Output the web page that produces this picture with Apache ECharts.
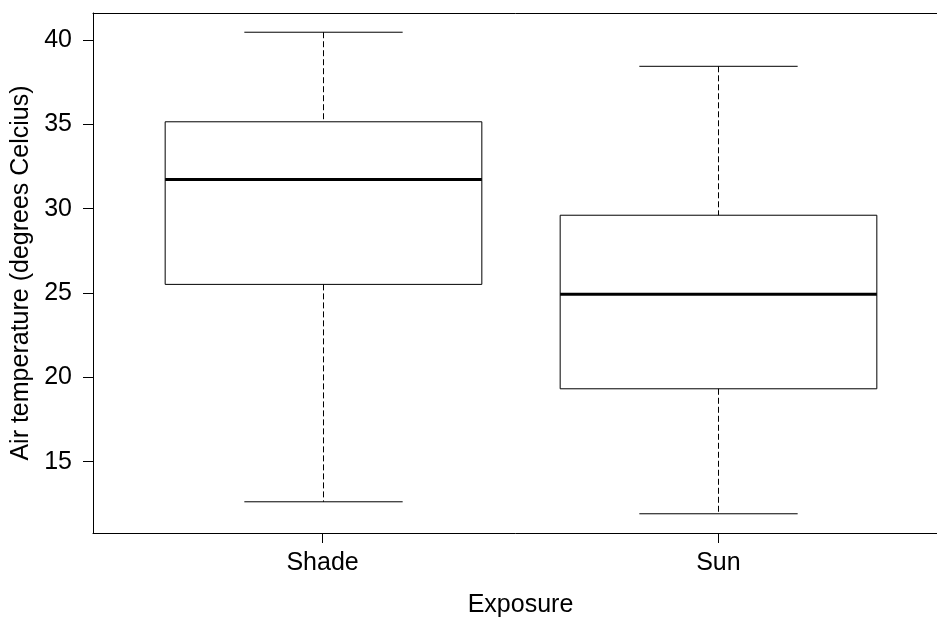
<!DOCTYPE html>
<html>
<head>
<meta charset="utf-8">
<script src="https://cdn.jsdelivr.net/npm/echarts@6/dist/echarts.min.js"></script>
<style>
html,body{margin:0;padding:0;background:#fff;}
#chart{width:937px;height:617px;}
</style>
</head>
<body>
<div id="chart"></div>
<script>
// Data
const categories = ['Shade', 'Sun'];
const whiskerLow  = [12.62, 11.91];
const q1Values    = [25.51, 19.32];
const medians     = [31.73, 24.92];
const q3Values    = [35.15, 29.61];
const whiskerHigh = [40.46, 38.44];
const yTickValues = [15, 20, 25, 30, 35, 40];
const xTickValues = [1, 2];

const FONT = '"Liberation Sans", Arial, sans-serif';

const data = categories.map((c, i) => [i + 1, whiskerLow[i], q1Values[i], medians[i], q3Values[i], whiskerHigh[i]]);

function renderItem(params, api) {
  const x = api.value(0);
  const pLo = api.coord([x, api.value(1)]);
  const pQ1 = api.coord([x, api.value(2)]);
  const pMed = api.coord([x, api.value(3)]);
  const pQ3 = api.coord([x, api.value(4)]);
  const pHi = api.coord([x, api.value(5)]);
  const w = api.size([0.8, 0])[0];
  const cx = Math.round(pLo[0]) + 0.5;
  const dash = {stroke: '#000', lineWidth: 1, lineDash: [6, 3]};
  const solid = {stroke: '#000', lineWidth: 1};
  return {
    type: 'group',
    children: [
      {type: 'line', shape: {x1: cx, y1: pHi[1], x2: cx, y2: pQ3[1]}, style: dash},
      {type: 'line', shape: {x1: cx, y1: pQ1[1], x2: cx, y2: pLo[1]}, style: dash},
      {type: 'line', shape: {x1: cx - w / 4, y1: pHi[1], x2: cx + w / 4, y2: pHi[1]}, style: solid},
      {type: 'line', shape: {x1: cx - w / 4, y1: pLo[1], x2: cx + w / 4, y2: pLo[1]}, style: solid},
      {type: 'rect', shape: {x: cx - w / 2, y: pQ3[1], width: w, height: pQ1[1] - pQ3[1]}, style: {fill: 'rgba(255,255,255,0)', stroke: '#000', lineWidth: 1}},
      {type: 'line', shape: {x1: cx - w / 2, y1: pMed[1], x2: cx + w / 2, y2: pMed[1]}, style: {stroke: '#000', lineWidth: 3}}
    ]
  };
}

const chart = echarts.init(document.getElementById('chart'), null, {renderer: 'canvas'});
chart.setOption({
  animation: false,
  backgroundColor: '#fff',
  grid: {
    left: 93, top: 13, width: 855, height: 520,
    outerBoundsMode: 'none',
    containLabel: false,
    show: false
  },
  xAxis: [{
    type: 'value',
    position: 'bottom',
    min: 0.42, max: 2.58,
    splitLine: {show: false},
    axisLine: {show: true, onZero: false, lineStyle: {color: '#000', width: 1}},
    axisTick: {show: true, inside: false, length: 10, customValues: xTickValues, lineStyle: {color: '#000'}},
    axisLabel: {
      customValues: xTickValues,
      formatter: v => categories[Math.round(v) - 1] || '',
      color: '#000', fontSize: 25, fontFamily: FONT, margin: 18
    },
    name: 'Exposure',
    nameLocation: 'middle',
    nameGap: 60,
    nameTextStyle: {color: '#000', fontSize: 25, fontFamily: FONT}
  }, {
    type: 'value',
    position: 'top',
    min: 0.42, max: 2.58,
    splitLine: {show: false},
    axisLine: {show: true, onZero: false, lineStyle: {color: '#000', width: 1}},
    axisTick: {show: false},
    axisLabel: {show: false}
  }],
  yAxis: {
    type: 'value',
    min: 10.77, max: 41.6,
    splitLine: {show: false},
    axisLine: {show: true, onZero: false, lineStyle: {color: '#000', width: 1}},
    axisTick: {show: true, inside: false, length: 10, customValues: yTickValues, lineStyle: {color: '#000'}},
    axisLabel: {
      customValues: yTickValues,
      color: '#000', fontSize: 25, fontFamily: FONT, margin: 21
    },
    name: 'Air temperature (degrees Celcius)',
    nameLocation: 'middle',
    nameGap: 56,
    nameTextStyle: {color: '#000', fontSize: 25, fontFamily: FONT}
  },
  series: [{
    type: 'custom',
    renderItem: renderItem,
    xAxisIndex: 0,
    encode: {x: 0, y: [1, 2, 3, 4, 5]},
    data: data,
    clip: false
  }]
});
</script>
</body>
</html>
